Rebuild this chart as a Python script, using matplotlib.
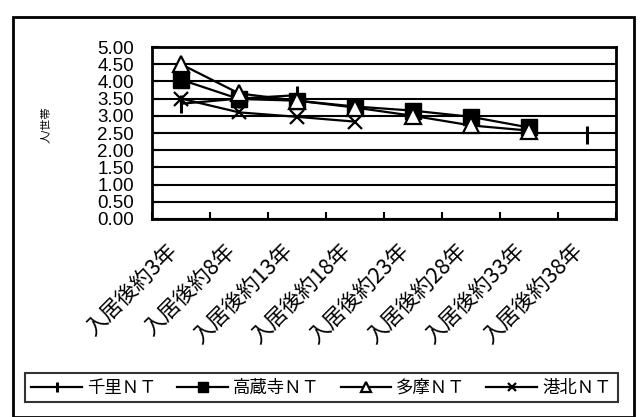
import numpy as np
import matplotlib
matplotlib.use('Agg')
import matplotlib.pyplot as plt
import matplotlib.transforms as mtransforms
from matplotlib.patches import Rectangle

plt.rcParams['font.family'] = ['Liberation Sans', 'Noto Sans CJK JP', 'DejaVu Sans']

# data (nan = no point)
categories = ['入居後約3年', '入居後約8年', '入居後約13年', '入居後約18年',
              '入居後約23年', '入居後約28年', '入居後約33年', '入居後約38年']
senri = [3.35, 3.5, 3.6, np.nan, np.nan, np.nan, np.nan, 2.45]
takakura = [4.05, 3.49, 3.44, 3.27, 3.15, 2.97, 2.66, np.nan]
tama = [4.5, 3.65, 3.44, 3.24, 3.0, 2.72, 2.57, np.nan]
kohoku = [3.5, 3.1, 2.97, 2.83, np.nan, np.nan, np.nan, np.nan]
names = ['千里ＮＴ', '高蔵寺ＮＴ', '多摩ＮＴ', '港北ＮＴ']
yticks = np.arange(0, 5.01, 0.5)

W, H = 641, 417
fig = plt.figure(figsize=(W / 100, H / 100), dpi=100)
ax = fig.add_axes([152 / W, 1 - 219 / H, (616 - 152) / W, (219 - 47) / H])

x = np.arange(len(categories))
lw = 1.6
ax.plot(x, senri, color='black', lw=lw, marker='|', ms=12.5, mew=2.2, label=names[0], zorder=3)
ax.plot(x, takakura, color='black', lw=lw, marker='s', ms=11, mfc='black', label=names[1], zorder=4)
ax.plot(x, tama, color='black', lw=lw, marker='^', ms=11, mfc='white', mew=1.6, label=names[2], zorder=5)
ax.plot(x, kohoku, color='black', lw=lw, marker='x', ms=10, mew=1.6, label=names[3], zorder=6)

ax.set_xlim(-0.5, len(categories) - 0.5)
ax.set_ylim(0, 5)
ax.set_yticks(yticks)
ax.set_yticklabels(['%.2f' % v for v in yticks], fontsize=13.5)
ax.yaxis.grid(True, color='black', lw=1.5)
ax.set_axisbelow(True)
ax.tick_params(axis='y', direction='in', length=5, width=1.5, pad=13)

ax.set_xticks(np.arange(len(categories) + 1) - 0.5, minor=False)
ax.set_xticklabels([])
ax.set_xticks(x, minor=True)
ax.set_xticklabels(categories, minor=True, rotation=45, ha='right',
                   rotation_mode='anchor', fontsize=15.5,
                   family=['Noto Sans CJK JP', 'DejaVu Sans'])
ax.tick_params(axis='x', which='major', direction='in', length=5, width=1.5)
ax.tick_params(axis='x', which='minor', length=0, pad=15)
shift = mtransforms.ScaledTranslation(-15 / 100, 0, fig.dpi_scale_trans)
for lab in ax.get_xticklabels(minor=True):
    lab.set_transform(lab.get_transform() + shift)

for s in ax.spines.values():
    s.set_linewidth(2)

fig.text(47 / W, 1 - 125 / H, '人/世帯', rotation=90, ha='center', va='center', fontsize=8)

leg = fig.legend(loc='center', bbox_to_anchor=(321.5 / W, 1 - 387.5 / H), ncol=4,
                 fontsize=12.5, frameon=True, fancybox=False, edgecolor='black',
                 markerscale=0.6, handlelength=2.9, columnspacing=1.2, handletextpad=0.3,
                 borderpad=0.35, borderaxespad=0)
leg.get_frame().set_linewidth(1.5)

fig.patches.append(Rectangle((13 / W, 0), (634 - 13) / W, 1 - 17 / H, transform=fig.transFigure,
                             fill=False, edgecolor='black', lw=2))

fig.savefig('out.png', dpi=100)
